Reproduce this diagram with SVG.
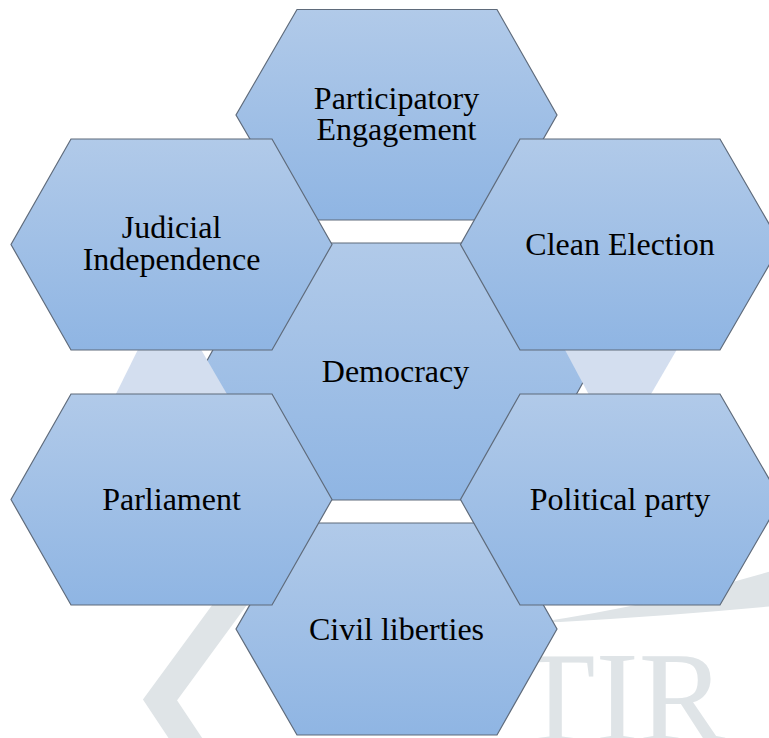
<svg xmlns="http://www.w3.org/2000/svg" width="769" height="738" viewBox="0 0 769 738">
<defs>
<linearGradient id="hexFill" x1="0" y1="0" x2="0" y2="1">
<stop offset="0" stop-color="#b1cae9"/>
<stop offset="1" stop-color="#8fb5e3"/>
</linearGradient>
<style>
.hex{fill:url(#hexFill);stroke:#5f6b7b;stroke-width:1.2;stroke-linejoin:miter}
.lbl{font-family:"Liberation Serif","Times New Roman",serif;font-size:32px;fill:#000;text-anchor:middle}
.wm{fill:#dfe4e7}
.wmline{fill:none;stroke:#dfe4e7}
.tri{fill:#d3deef}
.wmtext{font-family:"Liberation Serif","Times New Roman",serif;font-size:130px;fill:#dfe4e7}
</style>
</defs>
<rect x="0" y="0" width="769" height="738" fill="#ffffff"/>
<g id="watermark">
<polyline class="wmline" stroke-width="28" points="242,588 160,700 192,748"/>
<path class="wm" d="M 540 622 Q 660 604 775 570 L 775 606 Q 670 616 560 622 Z"/>
<text class="wmtext" x="516" y="741">TIR</text>
</g>
<g id="democracy">
<polygon class="hex" points="272,243 518,243 589,371.5 518,500 272,500 201,371.5"/>
<text class="lbl" x="395.5" y="382">Democracy</text>
</g>
<g id="connectors">
<polygon class="tri" points="167,291 103,420 242,420"/>
<polygon class="tri" points="549,320 694,320 618.5,450"/>
</g>
<g id="participatory-engagement">
<polygon class="hex" points="297,9.5 497,9.5 557,115 497,220 297,220 236,115"/>
<text class="lbl" x="396.5" y="108.5">Participatory</text>
<text class="lbl" x="396.5" y="140">Engagement</text>
</g>
<g id="civil-liberties">
<polygon class="hex" points="297,523 497,523 557,629 497,735 297,735 236,629"/>
<text class="lbl" x="396.5" y="640">Civil liberties</text>
</g>
<g id="judicial-independence">
<polygon class="hex" points="71,139 272,139 332,244.5 272,350 71,350 11,244.5"/>
<text class="lbl" x="171.5" y="238">Judicial</text>
<text class="lbl" x="171.5" y="270">Independence</text>
</g>
<g id="clean-election">
<polygon class="hex" points="520,139 720,139 781,244.5 720,350 520,350 460.5,244.5"/>
<text class="lbl" x="620" y="255">Clean Election</text>
</g>
<g id="parliament">
<polygon class="hex" points="71,394 272,394 332,499.5 272,605 71,605 11,499.5"/>
<text class="lbl" x="171.5" y="509.5">Parliament</text>
</g>
<g id="political-party">
<polygon class="hex" points="520,394 720,394 781,499.5 720,605 520,605 460.5,499.5"/>
<text class="lbl" x="620" y="509.5">Political party</text>
</g>
</svg>
